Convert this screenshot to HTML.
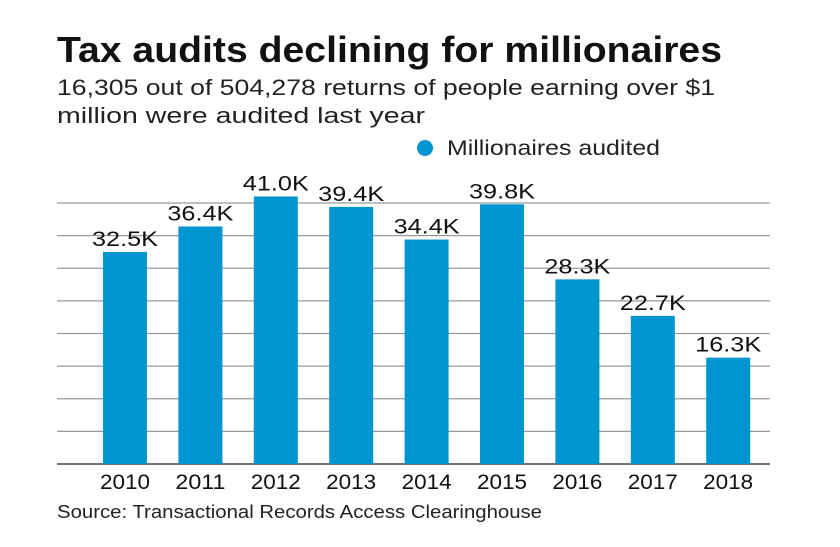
<!DOCTYPE html>
<html><head><meta charset="utf-8"><style>
body{margin:0;background:#fff;font-family:"Liberation Sans",sans-serif}
svg{display:block}
</style></head><body>
<svg width="840" height="547" id="c">
<text x="57" y="62" font-size="36" font-weight="bold" fill="#111" textLength="665" lengthAdjust="spacingAndGlyphs">Tax audits declining for millionaires</text>
<text x="57" y="95" font-size="22" fill="#222" textLength="658" lengthAdjust="spacingAndGlyphs">16,305 out of 504,278 returns of people earning over $1</text>
<text x="57" y="123" font-size="22" fill="#222" textLength="368" lengthAdjust="spacingAndGlyphs">million were audited last year</text>
<circle cx="425" cy="148" r="8" fill="#0094d0"/>
<text x="447" y="155" font-size="21" fill="#222" textLength="213" lengthAdjust="spacingAndGlyphs">Millionaires audited</text>
<g id="grid"></g><g id="bars"></g>
<text x="57" y="518" font-size="18" fill="#222" textLength="485" lengthAdjust="spacingAndGlyphs">Source: Transactional Records Access Clearinghouse</text>
</svg>
<script>
const categories=["2010","2011","2012","2013","2014","2015","2016","2017","2018"];
const values=[32.5,36.4,41.0,39.4,34.4,39.8,28.3,22.7,16.3];
const labels=["32.5K","36.4K","41.0K","39.4K","34.4K","39.8K","28.3K","22.7K","16.3K"];
const gridTicks=[0,5,10,15,20,25,30,35,40];
const NS="http://www.w3.org/2000/svg";
const y=v=>464-v*(261/40);
const x=i=>103+i*75.4;
const bw=44;
const g=document.getElementById('grid'),b=document.getElementById('bars');
gridTicks.forEach(t=>{const l=document.createElementNS(NS,'line');
l.setAttribute('x1',57);l.setAttribute('x2',770);l.setAttribute('y1',y(t));l.setAttribute('y2',y(t));
l.setAttribute('stroke',t===0?'#444':'#999');l.setAttribute('stroke-width',t===0?1.5:1.2);

g.appendChild(l);});
values.forEach((v,i)=>{const r=document.createElementNS(NS,'rect');
r.setAttribute('x',x(i));r.setAttribute('width',bw);r.setAttribute('y',y(v));r.setAttribute('height',464-y(v));r.setAttribute('fill','#0094d0');

b.appendChild(r);
const t=document.createElementNS(NS,'text');t.setAttribute('x',x(i)+bw/2-33);t.setAttribute('y',y(v)-6);t.setAttribute('font-size','21');t.setAttribute('fill','#111');t.setAttribute('textLength','66');t.setAttribute('lengthAdjust','spacingAndGlyphs');t.textContent=labels[i];

b.appendChild(t);
const c=document.createElementNS(NS,'text');c.setAttribute('x',x(i)+bw/2-25);c.setAttribute('y',489);c.setAttribute('font-size','21');c.setAttribute('fill','#111');c.setAttribute('textLength','50');c.setAttribute('lengthAdjust','spacingAndGlyphs');c.textContent=categories[i];

b.appendChild(c);});
</script>
</body></html>
